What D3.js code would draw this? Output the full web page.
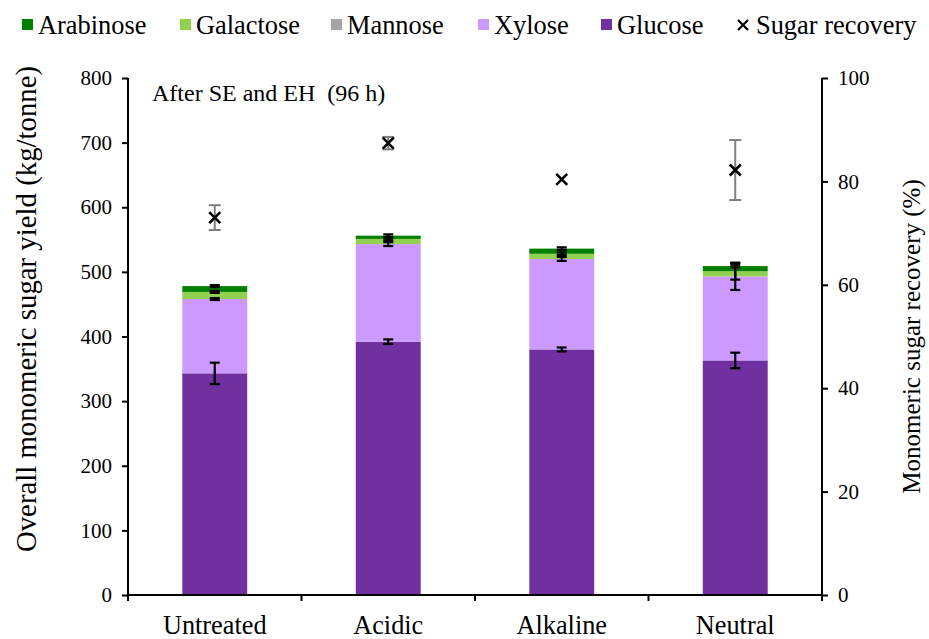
<!DOCTYPE html>
<html><head><meta charset="utf-8">
<script src="https://cdn.jsdelivr.net/npm/d3@7/dist/d3.min.js"></script>
<style>
html,body{margin:0;padding:0;background:#fff;}
text{font-family:"Liberation Serif","Times New Roman",serif;fill:#000;}
</style></head>
<body><svg id="c" width="929" height="639"></svg>
<script>
const categories = ["Untreated","Acidic","Alkaline","Neutral"];
const glucose   = [343, 392, 380, 363];
const xylose    = [115, 151, 140, 130];
const mannose   = [0, 0, 0, 0];
const galactose = [11, 8, 8, 8];
const arabinose = [9, 5, 8, 8];
const glucoseErr   = [16.5, 3.5, 3, 12];
const xyloseErr    = [1.5, 3, 3, 21];
const mannoseErr   = [0, 0, 0, 0];
const galactoseErr = [1.5, 2, 2, 13];
const arabinoseErr = [1.5, 2, 2, 2];
const recovery    = [73.0, 87.4, 80.4, 82.2];
const recoveryErr = [2.4, 1.2, 0, 5.8];
const leftTicks  = [0,100,200,300,400,500,600,700,800];
const rightTicks = [0,20,40,60,80,100];

const seriesNames = ["Glucose","Xylose","Mannose","Galactose","Arabinose"];
const seriesVals  = [glucose, xylose, mannose, galactose, arabinose];
const seriesErr   = [glucoseErr, xyloseErr, mannoseErr, galactoseErr, arabinoseErr];
const colors = {Glucose:"#7030A0", Xylose:"#CC99FF", Mannose:"#A5A5A5", Galactose:"#92D050", Arabinose:"#008000"};

const svg = d3.select("#c");
const L = 128, R = 822, T = 78, B = 595;

const x = d3.scaleBand().domain(categories).range([L, R]).paddingInner(0.626).paddingOuter(0.313);
const band = d3.scaleBand().domain(categories).range([L, R]);
const y = d3.scaleLinear().domain([0, 800]).range([B, T]);
const y2 = d3.scaleLinear().domain([0, 100]).range([B, T]);

const table = categories.map((c, i) => {
  const o = {cat: c};
  seriesNames.forEach((s, k) => o[s] = seriesVals[k][i]);
  return o;
});
const stack = d3.stack().keys(seriesNames)(table);

// bars
svg.append("g").selectAll("g").data(stack).join("g")
  .attr("fill", d => colors[d.key])
  .selectAll("rect").data(d => d).join("rect")
  .attr("x", d => x(d.data.cat))
  .attr("width", x.bandwidth())
  .attr("y", d => y(d[1]))
  .attr("height", d => y(d[0]) - y(d[1]));

// error bars on stacked bars
const eb = svg.append("g").attr("stroke", "#000").attr("stroke-width", 2.2);
stack.forEach((layer, k) => {
  layer.forEach((d, i) => {
    const e = seriesErr[k][i];
    if (!(e > 0)) return;
    const cx = x(d.data.cat) + x.bandwidth() / 2;
    const y0 = y(d[1] - e), y1 = y(d[1] + e);
    eb.append("line").attr("x1", cx).attr("x2", cx).attr("y1", y0).attr("y2", y1);
    eb.append("line").attr("x1", cx - 5).attr("x2", cx + 5).attr("y1", y0).attr("y2", y0);
    eb.append("line").attr("x1", cx - 5).attr("x2", cx + 5).attr("y1", y1).attr("y2", y1);
  });
});

// sugar recovery error bars + markers
const rg = svg.append("g");
categories.forEach((c, i) => {
  const cx = x(c) + x.bandwidth() / 2;
  const e = recoveryErr[i];
  if (e > 0) {
    const y0 = y2(recovery[i] - e), y1 = y2(recovery[i] + e);
    const g = rg.append("g").attr("stroke", "#7f7f7f").attr("stroke-width", 2);
    g.append("line").attr("x1", cx).attr("x2", cx).attr("y1", y0).attr("y2", y1);
    g.append("line").attr("x1", cx - 6).attr("x2", cx + 6).attr("y1", y0).attr("y2", y0);
    g.append("line").attr("x1", cx - 6).attr("x2", cx + 6).attr("y1", y1).attr("y2", y1);
  }
});
rg.selectAll("path.m").data(categories).join("path").attr("class", "m")
  .attr("transform", (c, i) => `translate(${x(c) + x.bandwidth() / 2},${y2(recovery[i])})`)
  .attr("d", "M-5.5,-5.5L5.5,5.5M-5.5,5.5L5.5,-5.5")
  .attr("stroke", "#000").attr("stroke-width", 2.6).attr("fill", "none");

// axes
const yAxis = svg.append("g").attr("transform", `translate(${L},0)`)
  .call(d3.axisLeft(y).tickValues(leftTicks).tickSize(6).tickPadding(10));
const yAxis2 = svg.append("g").attr("transform", `translate(${R},0)`)
  .call(d3.axisRight(y2).tickValues(rightTicks).tickSize(6).tickPadding(10));
[yAxis, yAxis2].forEach(a => {
  a.select(".domain").attr("stroke", "#000").attr("stroke-width", 2).attr("d", `M0,${T}V${B}`);
  a.selectAll(".tick line").attr("stroke", "#000").attr("stroke-width", 2);
  a.selectAll(".tick text").style("font-family", '"Liberation Serif",serif').style("font-size", "21px").attr("fill", "#000");
});
const xAxis = svg.append("g").attr("transform", `translate(0,${B})`);
xAxis.append("line").attr("x1", L).attr("x2", R).attr("stroke", "#000").attr("stroke-width", 2);
xAxis.selectAll("line.t").data(categories.concat(["end"])).join("line").attr("class", "t")
  .attr("x1", (c, i) => i < categories.length ? band(c) : R)
  .attr("x2", (c, i) => i < categories.length ? band(c) : R)
  .attr("y1", 0).attr("y2", 6).attr("stroke", "#000").attr("stroke-width", 2);
xAxis.selectAll("text").data(categories).join("text")
  .attr("x", c => band(c) + band.bandwidth() / 2).attr("y", 39)
  .attr("text-anchor", "middle").style("font-size", "26.3px").text(c => c);

// axis titles
svg.append("text").attr("transform", `translate(36,309) rotate(-90)`)
  .attr("text-anchor", "middle").style("font-size", "28.8px").text("Overall monomeric sugar yield (kg/tonne)");
svg.append("text").attr("transform", `translate(920,${(T + B) / 2 - 0}) rotate(-90)`)
  .attr("text-anchor", "middle").style("font-size", "25px").text("Monomeric sugar recovery (%)");

// annotation
svg.append("text").attr("x", 152).attr("y", 101).style("font-size", "24px").attr("xml:space", "preserve").text("After SE and EH  (96 h)");

// legend
const legendItems = ["Arabinose","Galactose","Mannose","Xylose","Glucose"];
const legendX = [22, 180, 331, 478, 601];
const lg = svg.append("g");
legendItems.forEach((s, i) => {
  lg.append("rect").attr("x", legendX[i]).attr("y", 19).attr("width", 11).attr("height", 11).attr("fill", colors[s]);
  lg.append("text").attr("x", legendX[i] + 16).attr("y", 34).style("font-size", "26.4px").text(s);
});
lg.append("path").attr("transform", "translate(743,25)").attr("d", "M-5,-5L5,5M-5,5L5,-5").attr("stroke", "#000").attr("stroke-width", 2.2);
lg.append("text").attr("x", 756).attr("y", 34).style("font-size", "26.4px").text("Sugar recovery");
</script></body></html>
